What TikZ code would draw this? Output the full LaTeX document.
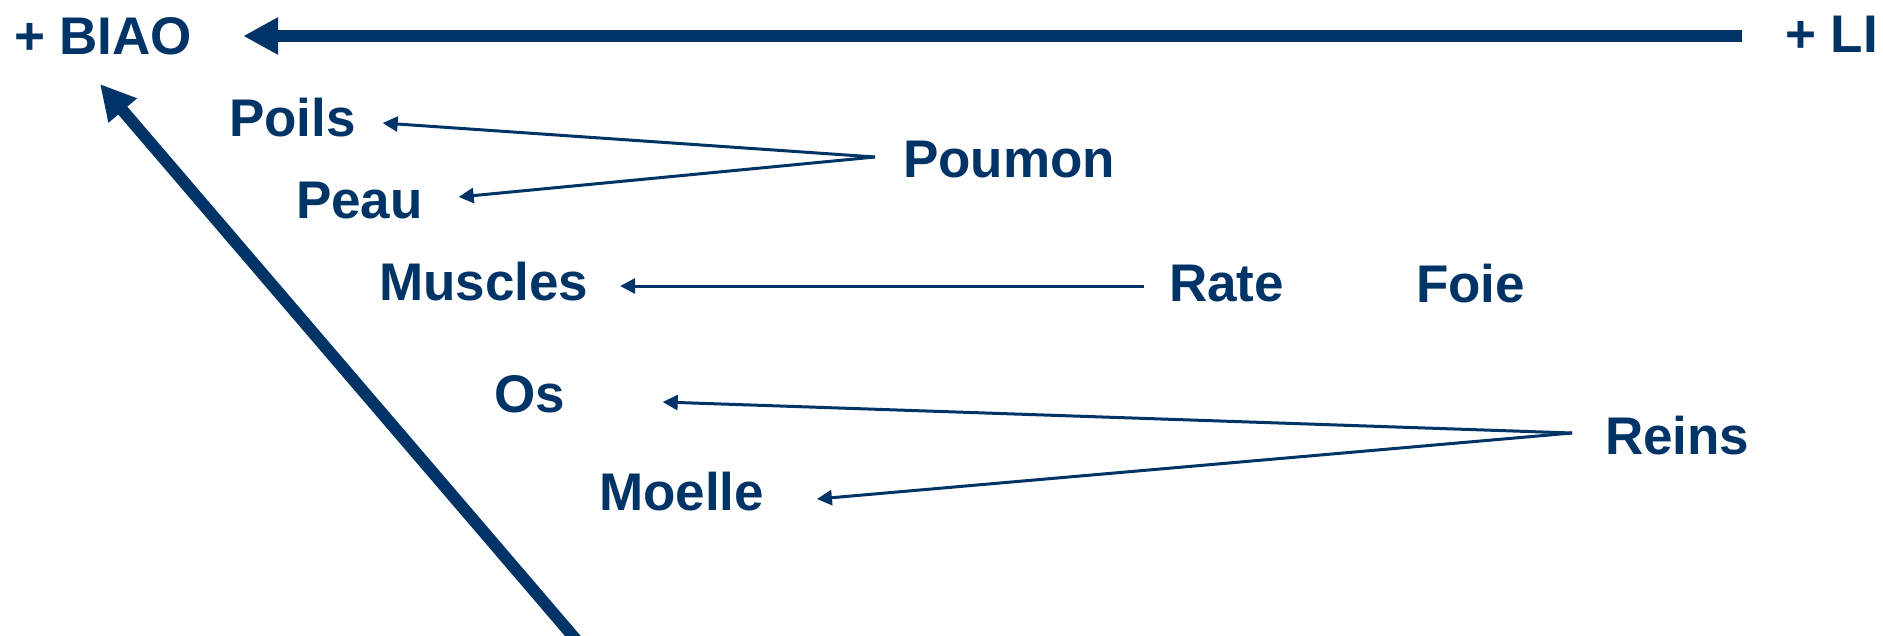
\documentclass[tikz,border=0pt]{standalone}
\usepackage{fontspec}
\setmainfont{Liberation Sans}
\usetikzlibrary{arrows.meta}
\definecolor{navy}{RGB}{0,51,102}
\begin{document}
\begin{tikzpicture}[x=1pt,y=-1pt,
  lbl/.style={anchor=base west,inner sep=0pt,outer sep=0pt,text=navy,font=\fontsize{53}{60}\selectfont\bfseries},
  bigarrow/.style={draw=navy,line width=12pt,-{Triangle[length=35pt,width=35pt]}},
  smallarrow/.style={draw=navy,line width=3pt,-{Triangle[length=15pt,width=15pt]}}]
\useasboundingbox (0,0) rectangle (1883,635);
\clip (0,0) rectangle (1883,635);
% labels
\node[lbl] (biao)   at (14,54)    {+ BIAO};
\node[lbl] (li)     at (1785,52)  {+ LI};
\node[lbl] (poils)  at (229,136)  {Poils};
\node[lbl] (peau)   at (296,218)  {Peau};
\node[lbl] (muscles) at (379,300) {Muscles};
\node[lbl] (os)     at (494,412)  {Os};
\node[lbl] (moelle) at (599,510)  {Moelle};
\node[lbl] (poumon) at (903,177)  {Poumon};
\node[lbl] (rate)   at (1169,301) {Rate};
\node[lbl] (foie)   at (1416,302) {Foie};
\node[lbl] (reins)  at (1605,454) {Reins};
% thick arrows
\draw[bigarrow] ([shift={(-43,-16)}]li.base west) -- ([shift={(51,-18)}]biao.base east);
\coordinate (diagstart) at (578,642);
\draw[bigarrow] (diagstart) -- ([shift={(86,30)}]biao.base west);
% thin arrows
\draw[smallarrow] ([shift={(-28,-20)}]poumon.base west) -- ([shift={(27,-13)}]poils.base east);
\draw[smallarrow] ([shift={(-28,-20)}]poumon.base west) -- ([shift={(36,-21)}]peau.base east);
\draw[smallarrow] ([shift={(-25,-15)}]rate.base west) -- ([shift={(32,-14)}]muscles.base east);
\draw[smallarrow] ([shift={(-33,-21)}]reins.base west) -- ([shift={(98,-10)}]os.base east);
\draw[smallarrow] ([shift={(-33,-21)}]reins.base west) -- ([shift={(53,-11)}]moelle.base east);
\end{tikzpicture}
\end{document}
